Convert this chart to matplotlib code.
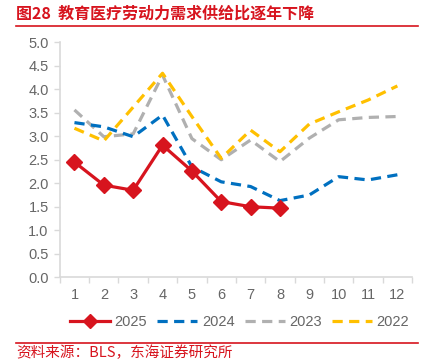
import matplotlib
matplotlib.use("Agg")
import matplotlib.pyplot as plt
from matplotlib.lines import Line2D

plt.rcParams['font.family'] = ['Liberation Sans', 'Noto Sans CJK SC', 'DejaVu Sans']

months = list(range(1, 13))
y2025 = [2.45, 1.96, 1.85, 2.81, 2.26, 1.61, 1.50, 1.47]
y2024 = [3.29, 3.20, 2.99, 3.45, 2.35, 2.03, 1.93, 1.63, 1.75, 2.14, 2.07, 2.18]
y2023 = [3.56, 2.99, 3.05, 4.30, 2.95, 2.50, 2.92, 2.46, 2.96, 3.35, 3.40, 3.42]
y2022 = [3.17, 2.90, 3.62, 4.34, 3.42, 2.53, 3.13, 2.67, 3.26, 3.52, 3.77, 4.07]
xticklabels = [str(m) for m in months]
yticks = [0.0, 0.5, 1.0, 1.5, 2.0, 2.5, 3.0, 3.5, 4.0, 4.5, 5.0]

title = "图28  教育医疗劳动力需求供给比逐年下降"
source = "资料来源：BLS，东海证券研究所"

RED = '#D7141E'
BLUE = '#0070C0'
GRAY = '#B0B0B0'
YELLOW = '#FFC000'
TXT = '#666666'

fig = plt.figure(figsize=(4.27, 3.61), dpi=100)
ax = fig.add_axes([0.14, 0.232, 0.825, 0.651])

dash = (0, (3.2, 2.0))
ax.plot(months[:len(y2023)], y2023, color=GRAY, lw=2.3, linestyle=dash, zorder=2)
ax.plot(months[:len(y2022)], y2022, color=YELLOW, lw=2.3, linestyle=dash, zorder=3)
ax.plot(months[:len(y2024)], y2024, color=BLUE, lw=2.3, linestyle=dash, zorder=4)
ax.plot(months[:len(y2025)], y2025, color=RED, lw=2.3, marker='D', markersize=8, zorder=5)

ax.set_xlim(0.5, 12.5)
ax.set_ylim(0, 5)
ax.set_yticks(yticks)
ax.set_yticklabels([f"{v:.1f}" for v in yticks])
ax.set_xticks(months)
ax.set_xticklabels(xticklabels)
ax.set_xticks([m + 0.5 for m in range(0, 13)], minor=True)
ax.tick_params(axis='x', which='major', length=0, pad=8, labelsize=10.5, labelcolor=TXT)
ax.tick_params(axis='x', which='minor', length=4, color='#D9D9D9', width=1)
ax.tick_params(axis='y', length=4, color='#D9D9D9', width=1, labelsize=10.5, labelcolor=TXT, pad=4)
for s in ['top', 'right']:
    ax.spines[s].set_visible(False)
for s in ['left', 'bottom']:
    ax.spines[s].set_color('#D9D9D9')
    ax.spines[s].set_linewidth(1.2)

handles = [
    Line2D([], [], color=RED, lw=2.3, marker='D', markersize=7),
    Line2D([], [], color=BLUE, lw=2.3, linestyle=dash),
    Line2D([], [], color=GRAY, lw=2.3, linestyle=dash),
    Line2D([], [], color=YELLOW, lw=2.3, linestyle=dash),
]
fig.legend(handles, ['2025', '2024', '2023', '2022'], loc='center',
           bbox_to_anchor=(0.561, 0.108), ncol=4, frameon=False, fontsize=10.5,
           handlelength=2.75, handletextpad=0.3, columnspacing=0.7, labelcolor=TXT)

fig.text(0.038, 0.962, title, color=RED, fontsize=11.5, fontweight='bold',
         family=['Noto Sans CJK SC', 'DejaVu Sans'], va='center', ha='left')
fig.add_artist(Line2D([0.038, 0.98], [0.929, 0.929], color=RED, lw=1.2, transform=fig.transFigure))
fig.add_artist(Line2D([0.038, 0.98], [0.049, 0.049], color=RED, lw=1.2, transform=fig.transFigure))
fig.text(0.038, 0.022, source, color=RED, fontsize=10.5,
         family=['Noto Sans CJK SC', 'DejaVu Sans'], va='center', ha='left')

fig.savefig('out.png', dpi=100)
